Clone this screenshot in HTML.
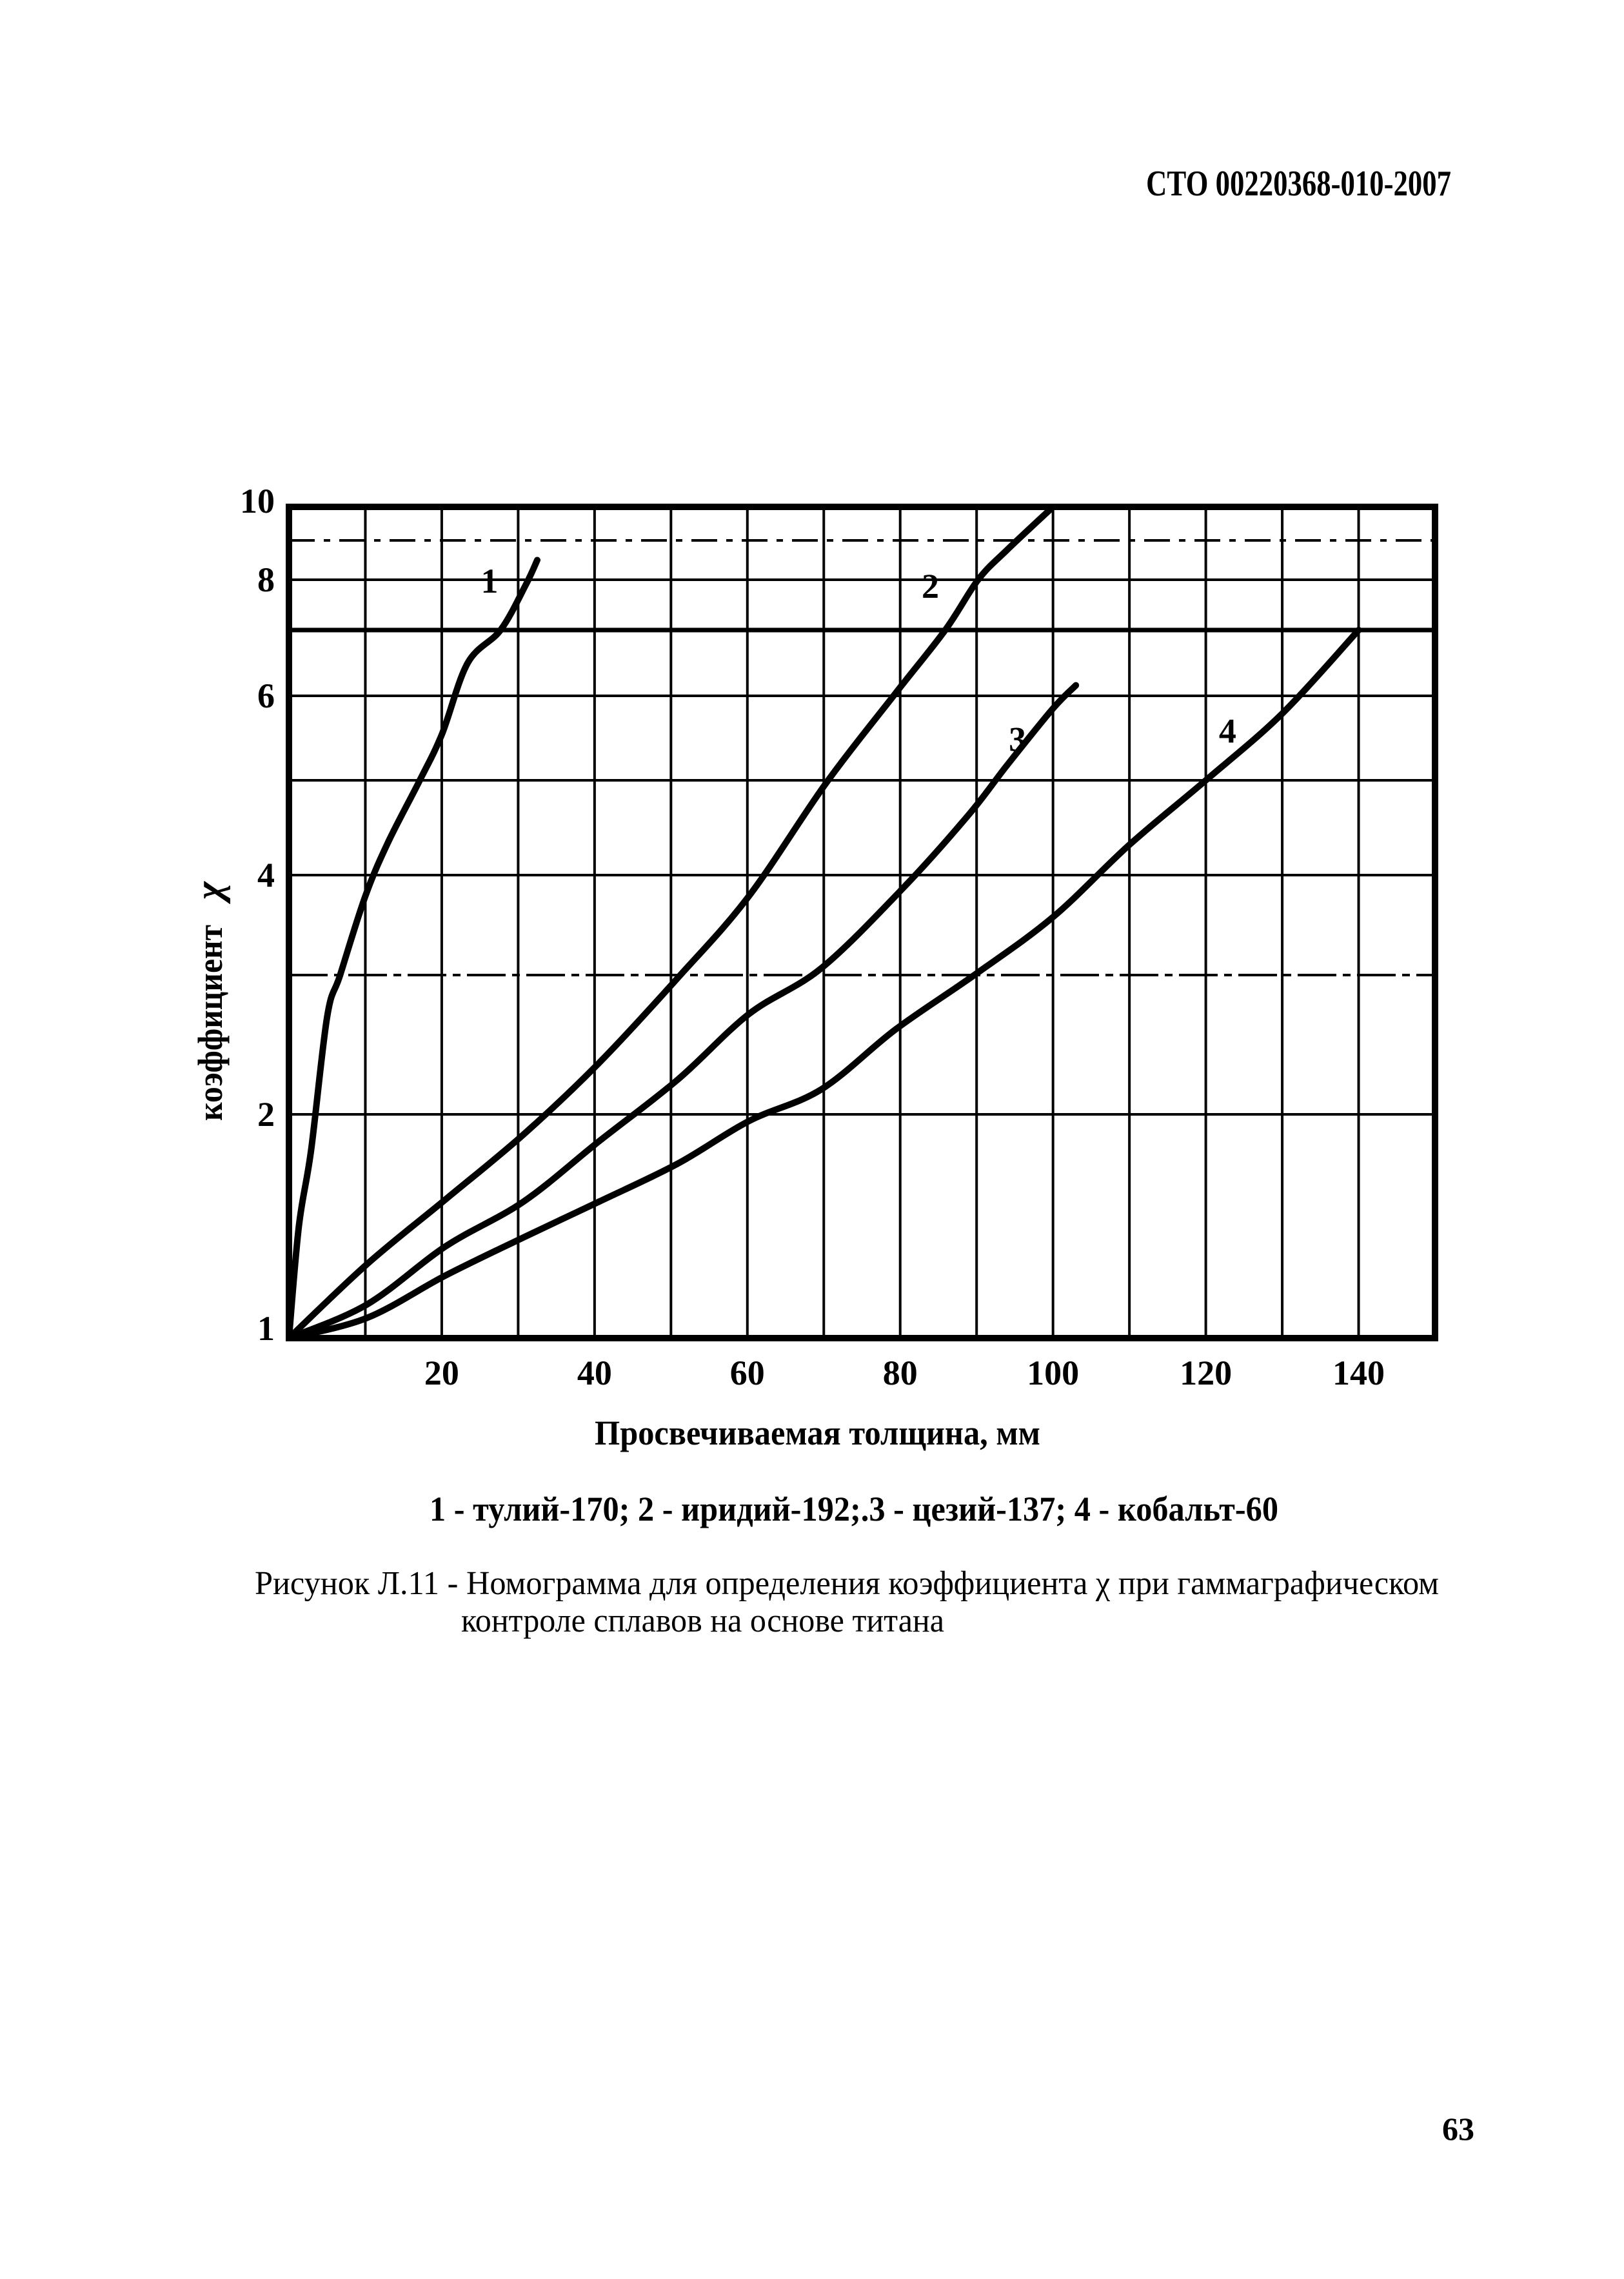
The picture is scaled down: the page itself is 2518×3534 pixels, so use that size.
<!DOCTYPE html>
<html><head><meta charset="utf-8">
<style>
html,body{margin:0;padding:0;background:#fff;}
svg{display:block;}
text{font-family:"Liberation Serif","DejaVu Serif",serif;fill:#000;}
</style></head>
<body>
<svg id="page" width="2518" height="3534" viewBox="0 0 2518 3534" xmlns="http://www.w3.org/2000/svg">
<rect x="0" y="0" width="2518" height="3534" fill="#fff"/>
<text x="1777" y="303" font-size="56" font-weight="bold" textLength="473" lengthAdjust="spacingAndGlyphs">СТО 00220368-010-2007</text>
<g id="grid"></g>
<g id="curves"></g>
<g id="ticks"></g>
<rect x="448" y="786" width="1777" height="1289" fill="none" stroke="#000" stroke-width="10"/>
<text transform="translate(344,1738) rotate(-90)" font-size="54" font-weight="bold" textLength="304" lengthAdjust="spacingAndGlyphs">коэффициент</text>
<text transform="translate(344,1395) rotate(-90)" font-size="60" font-weight="bold" font-style="italic">χ</text>
<text x="922" y="2240" font-size="54" font-weight="bold" textLength="691" lengthAdjust="spacingAndGlyphs">Просвечиваемая толщина, мм</text>
<text x="666" y="2358" font-size="54" font-weight="bold" textLength="1316" lengthAdjust="spacingAndGlyphs">1 - тулий-170; 2 - иридий-192;.3 - цезий-137; 4 - кобальт-60</text>
<text x="395" y="2472" font-size="52" textLength="1836" lengthAdjust="spacingAndGlyphs">Рисунок Л.11 - Номограмма для определения коэффициента χ при гаммаграфическом</text>
<text x="715" y="2530" font-size="52" textLength="749" lengthAdjust="spacingAndGlyphs">контроле сплавов на основе титана</text>
<text x="2236" y="3318" font-size="50" font-weight="bold">63</text>
</svg>
<script>
const xTicks = [20, 40, 60, 80, 100, 120, 140];
const yTicks = [1, 2, 4, 6, 8, 10];
const yGridValues = [1, 2, 3, 4, 5, 6, 7, 8, 9, 10];
const curve1X = [0, 1.3, 2.9, 5, 6.7, 10, 13, 17, 20, 23.4, 27.7, 31, 32.5];
const curve1Y = [1, 1.5, 1.84, 2.7, 3, 3.79, 4.35, 4.98, 5.54, 6.5, 7, 7.9, 8.5];
const curve2X = [0, 10.2, 20.5, 30.7, 40.6, 50.9, 60.2, 70.3, 79.4, 85.9, 90.2, 94, 100];
const curve2Y = [1, 1.33, 1.62, 1.91, 2.37, 2.98, 3.79, 4.97, 6.04, 7, 8, 8.76, 10];
const curve3X = [0, 10.2, 20.5, 30.7, 40.6, 50.9, 60.2, 69.7, 80.5, 89, 94, 100, 103];
const curve3Y = [1, 1.15, 1.41, 1.61, 1.88, 2.25, 2.72, 3.07, 3.88, 4.64, 5.18, 5.85, 6.16];
const curve4X = [0, 10.2, 20.5, 30.7, 40.6, 50.9, 60.2, 69.7, 79.4, 89.7, 100, 110, 120, 130, 140];
const curve4Y = [1, 1.09, 1.28, 1.45, 1.61, 1.78, 1.97, 2.18, 2.61, 3.0, 3.58, 4.32, 5.0, 5.79, 7];
const curveLabels = ["1", "2", "3", "4"];
const labelAnchorX = [26.8, 84.5, 95.9, 123.4];
const labelAnchorY = [8.0, 7.9, 5.5, 5.6];

const NS = "http://www.w3.org/2000/svg";
const X0 = 448, X1 = 2225, XMAX = 150;
function xs(v){ return X0 + (X1 - X0) * v / XMAX; }
// nomogram's non-uniform y scale, calibrated from the printed grid rows
const yCalV = [1, 2, 3, 4, 5, 6, 7, 8, 9, 10];
const yCalP = [2075, 1728, 1512, 1357, 1210, 1079, 977, 899, 838, 786];
function ys(v){
  if (v <= yCalV[0]) return yCalP[0];
  for (let i = 1; i < yCalV.length; i++) {
    if (v <= yCalV[i]) {
      const t = (v - yCalV[i-1]) / (yCalV[i] - yCalV[i-1]);
      return yCalP[i-1] + t * (yCalP[i] - yCalP[i-1]);
    }
  }
  return yCalP[yCalP.length-1];
}
function mk(tag, attrs, parent){
  const e = document.createElementNS(NS, tag);
  for (const k in attrs) e.setAttribute(k, attrs[k]);
  parent.appendChild(e);
  return e;
}
const grid = document.getElementById("grid");
for (let v = 10; v < XMAX; v += 10) {
  const l = mk("line", {x1: xs(v), x2: xs(v), y1: ys(10), y2: ys(1), stroke: "#000", "stroke-width": 4}, grid);
  
  
}
yGridValues.forEach(v => {
  const a = {x1: X0, x2: X1, y1: ys(v), y2: ys(v), stroke: "#000", "stroke-width": v === 7 ? 7 : 4};
  if (v === 9) a["stroke-dasharray"] = "40 14 10 14";
  if (v === 3) a["stroke-dasharray"] = "60 10 12 10";
  const l = mk("line", a, grid);
  
  
});
const ticks = document.getElementById("ticks");
xTicks.forEach(v => {
  const t = mk("text", {x: xs(v), y: 2147, "font-size": 54, "font-weight": "bold", "text-anchor": "middle"}, ticks);
  t.textContent = v;
  
  
});
yTicks.forEach(v => {
  let by = ys(v) + 18;
  if (v === 10) by = ys(v) + 9;
  if (v === 1) by = ys(v) + 3;
  const t = mk("text", {x: 426, y: by, "font-size": 54, "font-weight": "bold", "text-anchor": "end"}, ticks);
  t.textContent = v;
  
  
});
function pathFrom(xa, ya){
  const p = xa.map((x, i) => [xs(x), ys(ya[i])]);
  let d = "M" + p[0][0] + "," + p[0][1];
  for (let i = 0; i < p.length - 1; i++) {
    const p0 = p[Math.max(0, i-1)], p1 = p[i], p2 = p[i+1], p3 = p[Math.min(p.length-1, i+2)];
    const c1 = [p1[0] + (p2[0]-p0[0])/6, p1[1] + (p2[1]-p0[1])/6];
    const c2 = [p2[0] - (p3[0]-p1[0])/6, p2[1] - (p3[1]-p1[1])/6];
    d += " C" + c1[0] + "," + c1[1] + " " + c2[0] + "," + c2[1] + " " + p2[0] + "," + p2[1];
  }
  return d;
}
const curves = document.getElementById("curves");
const series = [[curve1X, curve1Y], [curve2X, curve2Y], [curve3X, curve3Y], [curve4X, curve4Y]];
series.forEach((s, i) => {
  const p = mk("path", {d: pathFrom(s[0], s[1]), fill: "none", stroke: "#000", "stroke-width": 10, "stroke-linejoin": "round", "stroke-linecap": "round"}, curves);
  
  
  const t = mk("text", {x: xs(labelAnchorX[i]) - 20, y: ys(labelAnchorY[i]) + 20, "font-size": 54, "font-weight": "bold"}, curves);
  t.textContent = curveLabels[i];
  
  
});
</script>
</body></html>
